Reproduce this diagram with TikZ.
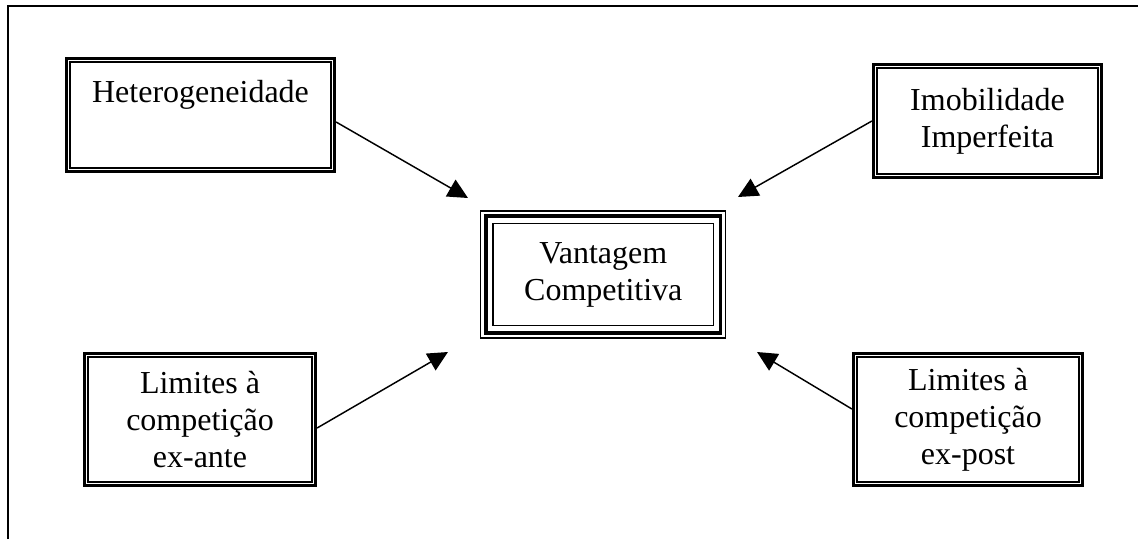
\documentclass[tikz,border=0pt]{standalone}
\usepackage{fontspec}
\setmainfont{Liberation Serif}
\usetikzlibrary{arrows.meta,calc}
\begin{document}
\begin{tikzpicture}[x=0.75pt,y=-0.75pt,
  txt/.style={font=\fontsize{24}{27.75}\selectfont, align=center, inner sep=0pt},
  dbox/.style={txt, draw, line width=2.4pt, minimum width=#1},
  tbox/.style={txt, draw, line width=1pt},
  thinline/.style={line width=1.1pt},
  thickline/.style={line width=2.8pt},
  arr/.style={line width=1.1pt, -{Triangle[length=15pt,width=14.4pt]}},
  frameline/.style={line width=1.1pt}]
  \useasboundingbox (0,0) rectangle (1138,539);

  % open frame around the figure (top and left edges)
  \draw[frameline] (8,539) -- (8,6) -- (1138,6);

  % factor boxes (thick outer line, thin inner line)
  \node[dbox={268*0.75pt}, minimum height={113*0.75pt}] (het) at (200.5,115)
    {Heterogeneidade\\\strut};
  \node[dbox={228*0.75pt}, minimum height={113*0.75pt}] (imo) at (987.5,121)
    {Imobilidade\\Imperfeita};
  \node[dbox={231*0.75pt}, minimum height={132*0.75pt}] (ante) at (200,419.5)
    {Limites à\\competição\\ex-ante};
  \node[dbox={229*0.75pt}, minimum height={132*0.75pt}] (post) at (968,419.5)
    {Limites à\\competição\\ex-post};
  \foreach \n in {het,imo,ante,post}
    \draw[thinline] ([shift={(5,5)}]\n.north west) rectangle ([shift={(-5,-5)}]\n.south east);

  % central box (thin, thick, thin lines)
  \node[tbox, minimum width={245*0.75pt}, minimum height={127*0.75pt}] (va) at (603.25,274.5)
    {Vantagem\\Competitiva};
  \draw[thickline] ([shift={(6,6)}]va.north west) rectangle ([shift={(-6,-6)}]va.south east);
  \draw[thinline] ([shift={(13,13)}]va.north west) rectangle ([shift={(-13,-13)}]va.south east);

  % arrow tips around the central box
  \coordinate (t1) at (468,198);
  \coordinate (t2) at (738,197);
  \coordinate (t3) at (448,352);
  \coordinate (t4) at (757,352);

  \draw[arr] ([shift={(0,7)}]het.east) -- (t1);
  \draw[arr] (imo.west) -- (t2);
  \draw[arr] ([shift={(0,8.5)}]ante.east) -- (t3);
  \draw[arr] ([shift={(0,-10.5)}]post.west) -- (t4);
\end{tikzpicture}
\end{document}
